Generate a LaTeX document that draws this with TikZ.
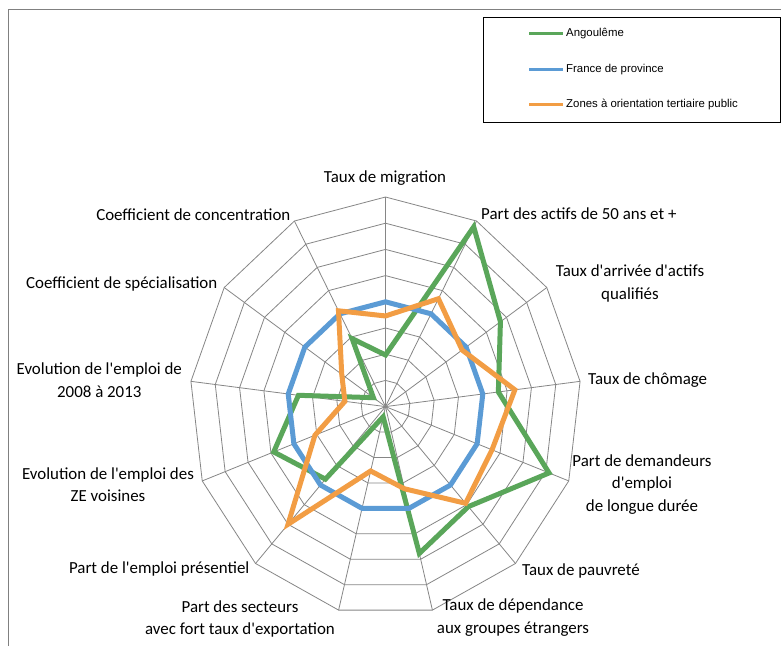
\documentclass[tikz,border=0pt]{standalone}
\usepackage{fontspec}
\setmainfont{Carlito}[Ligatures=TeXOff]
\newfontfamily\legfont{Liberation Sans}
\definecolor{cgreen}{RGB}{90,166,90}
\definecolor{cblue}{RGB}{91,155,213}
\definecolor{corange}{RGB}{242,157,68}
\definecolor{gridc}{RGB}{134,134,134}
\definecolor{framec}{RGB}{128,128,128}
\begin{document}
\begin{tikzpicture}[x=1pt,y=-1pt,
  lab/.style={font=\fontsize{16.9}{22.5}\selectfont, inner sep=0pt, align=center},
  leg/.style={font=\legfont\fontsize{11.4}{13}\selectfont, inner sep=0pt, anchor=west},
  gridl/.style={draw=gridc, line width=0.8pt},
  ser/.style={line width=5pt, line join=miter},
  legline/.style={line width=3pt},
  framel/.style={draw=framec, line width=1.3pt}]
\useasboundingbox (0,0) rectangle (781,646);
\fill[white] (0,0) rectangle (781,646);
\draw[framel] (8.3,646) -- (8.3,9.3) -- (781,9.3);
\coordinate (c) at (385.5,406.6);
% grid
\foreach \i in {1,...,8}
  \draw[gridl] plot[samples at={0,...,12}] ({385.5+196*\i/8*sin(\x*360/13)},{406.6-209.6*\i/8*cos(\x*360/13)}) -- cycle;
\foreach \k in {0,...,12}
  \draw[gridl] (c) -- ({385.5+196*sin(\k*360/13)},{406.6-209.6*cos(\k*360/13)});
% series
\foreach \v [count=\k from 0] in {1.97,7.75,5.7,4.64,7.14,5.1,5.77,0.4,3.7,4.88,3.58,0.6,2.93}
  \coordinate (g\k) at ({385.5+196*\v/8*sin(\k*360/13)},{406.6-209.6*\v/8*cos(\k*360/13)});
\foreach \v [count=\k from 0] in {4,4,4,4,4,4,4,4,4,4,4,4,4}
  \coordinate (b\k) at ({385.5+196*\v/8*sin(\k*360/13)},{406.6-209.6*\v/8*cos(\k*360/13)});
\foreach \v [count=\k from 0] in {3.46,4.65,3.8,5.32,4.65,4.93,3.23,2.53,6.0,3.08,1.67,2.17,4.13}
  \coordinate (o\k) at ({385.5+196*\v/8*sin(\k*360/13)},{406.6-209.6*\v/8*cos(\k*360/13)});
\draw[ser,cgreen] (g0) \foreach \k in {1,...,12}{ -- (g\k)} -- cycle;
\draw[ser,cblue] (b0) \foreach \k in {1,...,12}{ -- (b\k)} -- cycle;
\draw[ser,corange] (o0) \foreach \k in {1,...,12}{ -- (o\k)} -- cycle;
% labels
\node[lab] (l0) at (385,178) {Taux de migration};
\node[lab, anchor=west] (l1) at (481,214) {Part des actifs de 50 ans et +};
\node[lab] (l2) at (630,283.5) {Taux d'arrivée d'actifs\\qualifiés};
\node[lab, anchor=west] (l3) at (588,380) {Taux de chômage};
\node[lab] (l4) at (642,484.5) {Part de demandeurs\\d'emploi\\de longue durée};
\node[lab, anchor=west] (l5) at (522,571) {Taux de pauvreté};
\node[lab] (l6) at (513,617.5) {Taux de dépendance\\aux groupes étrangers};
\node[lab] (l7) at (240,619) {Part des secteurs\\avec fort taux d'exportation};
\node[lab, anchor=east] (l8) at (249.5,569.3) {Part de l'emploi présentiel};
\node[lab] (l9) at (108,484.7) {Evolution de l'emploi des\\ZE voisines};
\node[lab] (l10) at (99.3,380) {Evolution de l'emploi de\\2008 à 2013};
\node[lab, anchor=east] (l11) at (217.5,284) {Coefficient de spécialisation};
\node[lab, anchor=east] (l12) at (290.5,214.3) {Coefficient de concentration};
% legend
\draw[black, line width=0.9pt] (483.5,17) rectangle (780,122);
\coordinate (la1) at (529,33.3); \coordinate (lb1) at (563,33.3);
\coordinate (la2) at (529,69.3); \coordinate (lb2) at (563,69.3);
\coordinate (la3) at (529,104.3); \coordinate (lb3) at (563,104.3);
\draw[legline,cgreen] (la1) -- (lb1);
\draw[legline,cblue] (la2) -- (lb2);
\draw[legline,corange] (la3) -- (lb3);
\node[leg] (t1) at (566,33.3) {Angoulême};
\node[leg] (t2) at (566,69.3) {France de province};
\node[leg] (t3) at (566,104.3) {Zones à orientation tertiaire public};
\end{tikzpicture}
\end{document}
